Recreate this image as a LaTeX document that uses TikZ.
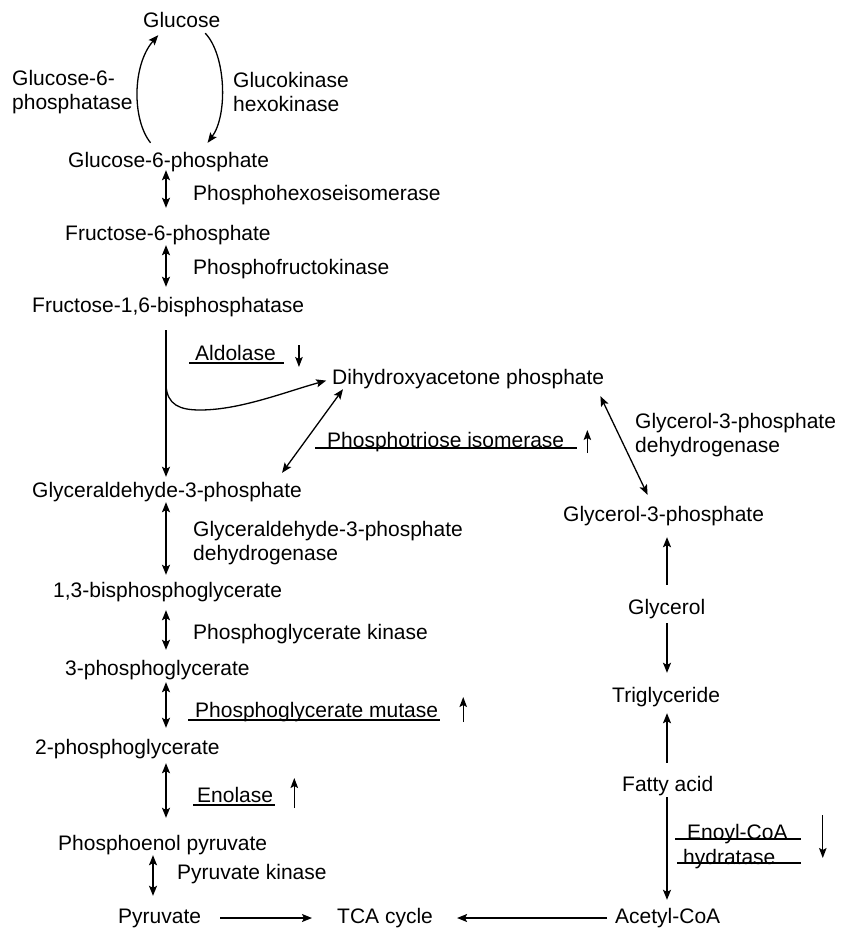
\documentclass[tikz,border=0pt]{standalone}
\usepackage{fontspec}
\setmainfont{Liberation Sans}
\usetikzlibrary{arrows.meta}
\begin{document}
\begin{tikzpicture}[x=1pt,y=-1pt,
  txt/.style={inner sep=0pt, anchor=west, text height=15.5pt, text depth=4.5pt, font=\fontsize{21}{24}\selectfont},
  txtb/.style={inner sep=0pt, anchor=west, align=left, font=\fontsize{21}{24.5}\selectfont},
  conn/.style={line width=1.3pt, -{Stealth[length=10pt,width=8pt,inset=2pt]}},
  dbl/.style={line width=1.3pt, {Stealth[length=10pt,width=8pt,inset=2pt]}-{Stealth[length=10pt,width=8pt,inset=2pt]}},
  ind/.style={line width=1.3pt, -{Stealth[length=10pt,width=7.5pt,inset=2pt]}},
  uline/.style={line width=2.2pt}]
\useasboundingbox (0,0) rectangle (846,934);
\fill[white] (0,0) rectangle (846,934);

% column coordinates
\coordinate (colx) at (166,0);
\coordinate (colp) at (153,0);
\coordinate (colr) at (667,0);
\coordinate (branch) at (166,385);

% left column
\node[txt] (glc) at (143,22) {Glucose};
\node[txtb] (g6pase) at (12,92) {Glucose-6-\\phosphatase};
\node[txtb] (gk) at (233,92) {Glucokinase\\hexokinase};
\node[txt] (g6p) at (68,162) {Glucose-6-phosphate};
\node[txt] (phi) at (193,195) {Phosphohexoseisomerase};
\node[txt] (f6p) at (65,235) {Fructose-6-phosphate};
\node[txt] (pfk) at (193,269) {Phosphofructokinase};
\node[txt] (f16) at (32,307) {Fructose-1,6-bisphosphatase};
\node[txt] (ald) at (195,355) {Aldolase};
\node[txt] (dhap) at (332,379) {Dihydroxyacetone phosphate};
\node[txt] (pti) at (327,442) {Phosphotriose isomerase};
\node[txtb] (g3pdh) at (635,435) {Glycerol-3-phosphate\\dehydrogenase};
\node[txt] (gap) at (32,492) {Glyceraldehyde-3-phosphate};
\node[txt] (g3p) at (563,516) {Glycerol-3-phosphate};
\node[txtb] (gapdh) at (193,543) {Glyceraldehyde-3-phosphate\\dehydrogenase};
\node[txt] (bpg) at (53,592) {1,3-bisphosphoglycerate};
\node[txt] (pgk) at (193,634) {Phosphoglycerate kinase};
\node[txt] (pg3) at (65,670) {3-phosphoglycerate};
\node[txt] (pgm) at (195,712) {Phosphoglycerate mutase};
\node[txt] (pg2) at (35,749) {2-phosphoglycerate};
\node[txt] (eno) at (197,797) {Enolase};
\node[txt] (pep) at (58,845) {Phosphoenol pyruvate};
\node[txt] (pk) at (177,874) {Pyruvate kinase};
\node[txt] (pyr) at (118,918) {Pyruvate};
\node[txt] (tca) at (337,918) {TCA cycle};

% right column
\node[txt] (glycerol) at (628,609) {Glycerol};
\node[txt] (tg) at (612,697) {Triglyceride};
\node[txt] (fa) at (622,786) {Fatty acid};
\node[txt] (ecoaa) at (687,834) {Enoyl-CoA};
\node[txt] (ecoab) at (683,859) {hydratase};
\node[txt] (acoa) at (615,918) {Acetyl-CoA};

% glucose cycle
\draw[conn] ([xshift=-18pt,yshift=9pt]g6p.north) .. controls (132,120) and (132,65) .. ([xshift=-23.5pt,yshift=-3pt]glc.south);
\draw[conn] ([xshift=23.5pt,yshift=-1pt]glc.south) .. controls (226,55) and (228,115) .. ([xshift=39pt,yshift=9pt]g6p.north);

% glycolysis
\draw[dbl, shorten <=-2pt, shorten >=17pt] (g6p.south -| colx) -- (f6p.north -| colx);
\draw[dbl, shorten >=10pt] (f6p.south -| colx) -- (f16.north -| colx);
\draw[conn, shorten <=13pt, shorten >=5pt] (f16.south -| colx) -- (gap.north -| colx);
\draw[conn, shorten >=6pt] (branch) .. controls (167,405) and (180,410) .. (200,410) .. controls (240,410) and (285,392) .. (dhap.west);
\draw[dbl] ([xshift=11pt]dhap.south west) -- ([xshift=-20pt,yshift=9pt]gap.north east);
\draw[dbl] ([xshift=-4pt,yshift=-7pt]dhap.south east) -- ([xshift=-16pt,yshift=11pt]g3p.north);
\draw[dbl, shorten >=7pt] (gap.south -| colx) -- (bpg.north -| colx);
\draw[dbl, shorten <=8pt, shorten >=10pt] (bpg.south -| colx) -- (pg3.north -| colx);
\draw[dbl, shorten <=2pt, shorten >=11pt] (pg3.south -| colx) -- (pg2.north -| colx);
\draw[dbl, shorten <=4pt, shorten >=17pt] (pg2.south -| colx) -- (pep.north -| colx);
\draw[dbl, shorten >=12pt] (pep.south -| colp) -- (pyr.north -| colp);
\draw[conn, shorten <=19pt, shorten >=25pt] (pyr.east) -- (tca.west);
\draw[conn, shorten <=8pt, shorten >=24pt] (acoa.west) -- (tca.east);

% glycerol / lipid branch
\draw[conn, shorten <=14pt, shorten >=11pt] (glycerol.north -| colr) -- (g3p.south -| colr);
\draw[conn, shorten <=4pt, shorten >=14pt] (glycerol.south -| colr) -- (tg.north -| colr);
\draw[conn, shorten <=13pt, shorten >=6pt] (fa.north -| colr) -- (tg.south -| colr);
\draw[conn, shorten <=1pt, shorten >=8pt] (fa.south -| colr) -- (acoa.north -| colr);

% underlines
\draw[uline] ([xshift=-6pt,yshift=2pt]ald.south west) -- ([xshift=8pt,yshift=2pt]ald.south east);
\draw[uline] ([xshift=-12pt,yshift=4pt]pti.south west) -- ([xshift=13pt,yshift=4pt]pti.south east);
\draw[uline] ([xshift=-7pt,yshift=2pt]pgm.south west) -- ([xshift=2pt,yshift=2pt]pgm.south east);
\draw[uline] ([xshift=-4pt,yshift=2pt]eno.south west) -- ([xshift=2pt,yshift=2pt]eno.south east);
\draw[uline] ([xshift=-12pt,yshift=5pt]ecoaa.south west) -- ([xshift=13pt,yshift=5pt]ecoaa.south east);
\draw[uline] ([xshift=-6pt,yshift=6pt]ecoab.south west) -- ([xshift=25pt,yshift=6pt]ecoab.south east);

% activity indicators
\draw[ind] ([xshift=23pt,yshift=10pt]ald.east) -- ++(0,22);
\draw[ind] ([xshift=23pt,yshift=-11pt]pti.east) -- ++(0,-23);
\draw[ind] ([xshift=25pt,yshift=-10pt]pgm.east) -- ++(0,-25);
\draw[ind] ([xshift=21pt,yshift=-11pt]eno.east) -- ++(0,-30);
\draw[ind] ([xshift=35pt,yshift=19pt]ecoaa.east) -- ++(0,43);
\end{tikzpicture}
\end{document}
